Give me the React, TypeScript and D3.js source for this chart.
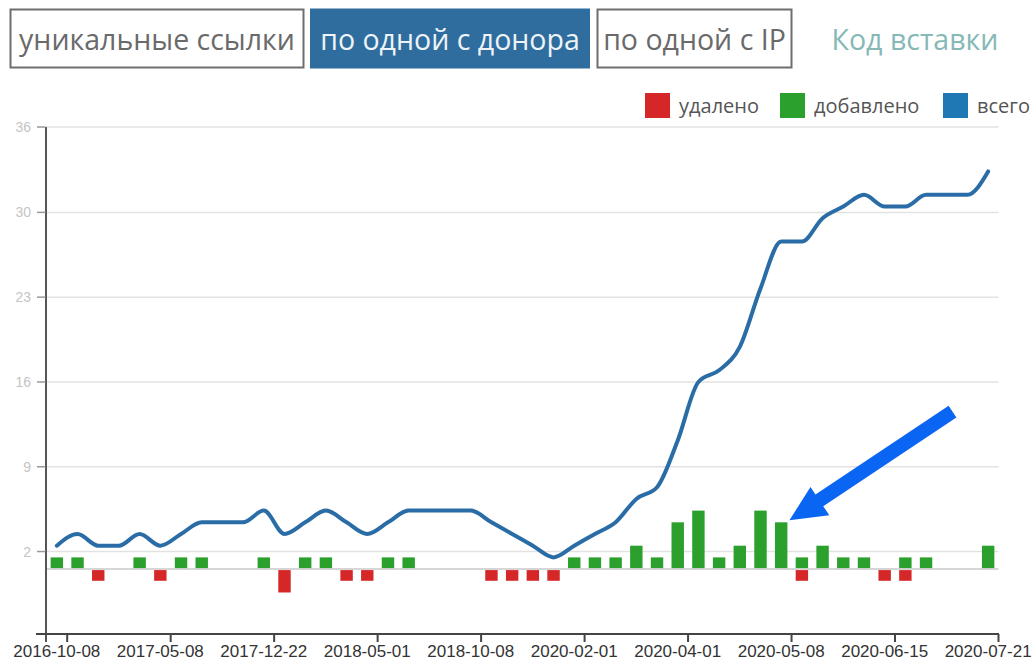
import React from 'react';
import * as d3 from 'd3';

// ---------- data ----------
const tabs = ['уникальные ссылки', 'по одной с донора', 'по одной с IP'];
const activeTab = 1;
const embedLabel = 'Код вставки';

const legendLabels = ['удалено', 'добавлено', 'всего'];
const legendColors = ['#d62728', '#2ca02c', '#1f77b4'];

const tickLabels = [
  '2016-10-08', '2017-05-08', '2017-12-22', '2018-05-01', '2018-10-08',
  '2020-02-01', '2020-04-01', '2020-05-08', '2020-06-15', '2020-07-21',
];
const tickEvery = 5;

const added = [
  1, 1, 0, 0, 1, 0, 1, 1, 0, 0,
  1, 0, 1, 1, 0, 0, 1, 1, 0, 0,
  0, 0, 0, 0, 0, 1, 1, 1, 2, 1,
  4, 5, 1, 2, 5, 4, 1, 2, 1, 1,
  0, 1, 1, 0, 0, 2,
];
const removed = [
  0, 0, 1, 0, 0, 1, 0, 0, 0, 0,
  0, 2, 0, 0, 1, 1, 0, 0, 0, 0,
  0, 1, 1, 1, 1, 0, 0, 0, 0, 0,
  0, 0, 0, 0, 0, 0, 1, 0, 0, 0,
  1, 1, 0, 0, 0, 0,
];
const total = [
  2, 3, 2, 2, 3, 2, 3, 4, 4, 4,
  5, 3, 4, 5, 4, 3, 4, 5, 5, 5,
  5, 4, 3, 2, 1, 2, 3, 4, 6, 7,
  11, 16, 17, 19, 24, 28, 28, 30, 31, 32,
  31, 31, 32, 32, 32, 34,
];

const yDomain = [-5.55, 37.8];
const yTickValues = [1.5, 8.75, 16.0, 23.25, 30.5, 37.8];
const yTickLabels = ['2', '9', '16', '23', '30', '36'];

const arrowTarget = 35;

// ---------- layout ----------
const W = 1036;
const H = 665;
const plot = { left: 46.5, right: 998.5, top: 127, bottom: 634 };

export default function App() {
  const cats = d3.range(total.length);
  const x = d3
    .scaleBand<number>()
    .domain(cats)
    .range([plot.left, plot.right])
    .paddingInner(0.4)
    .paddingOuter(0.2);
  const bw = x.bandwidth();
  const step = x.step();
  const xc = (i: number) => (x(i) as number) + bw / 2;

  const y = d3.scaleLinear().domain(yDomain).range([plot.bottom, plot.top]);

  const line = d3
    .line<number>()
    .x((_, i) => xc(i))
    .y((v) => y(v))
    .curve(d3.curveMonotoneX);

  const tickCats = tickLabels.map((_, k) => k * tickEvery);

  // tabs geometry (UI)
  const tabBoxes = [
    { x: 10.5, w: 293 },
    { x: 311, w: 278 },
    { x: 597.5, w: 194 },
  ];

  // annotation arrow
  const tipX = (x(arrowTarget) as number) + bw + 2;
  const tipY = y(added[arrowTarget]) - 2;
  const ang = Math.atan2(-110, 165);
  const ux = Math.cos(ang), uy = Math.sin(ang);
  const nx = -uy, ny = ux;
  const P = (a: number, b: number) =>
    `${tipX + ux * a + nx * b},${tipY + uy * a + ny * b}`;
  const arrowPts = [
    P(0, 0),
    P(36, -16),
    P(36, -7),
    P(196, -7),
    P(196, 7),
    P(36, 7),
    P(36, 18),
  ].join(' ');

  return (
    <svg
      width={W}
      height={H}
      style={{ position: 'absolute', left: 0, top: 0, background: '#fff' }}
      fontFamily="'Open Sans', sans-serif"
    >
      {/* tabs */}
      {tabs.map((t, i) => {
        const b = tabBoxes[i];
        const active = i === activeTab;
        return (
          <g key={t}>
            <rect
              x={b.x}
              y={9.5}
              width={b.w}
              height={58}
              fill={active ? '#2f6d9e' : '#fff'}
              stroke={active ? '#2f6d9e' : '#6e6e6e'}
              strokeWidth={2}
            />
            <text
              x={b.x + b.w / 2}
              y={49.5}
              textAnchor="middle"
              fontSize={28.5}
              fill={active ? '#eef3f7' : '#6a6a6a'}
            >
              {t}
            </text>
          </g>
        );
      })}
      <text x={915} y={49.5} textAnchor="middle" fontSize={28.5} fill="#86b8b6">
        {embedLabel}
      </text>

      {/* legend */}
      {legendLabels.map((l, i) => {
        const lx = [645, 780, 943][i];
        return (
          <g key={l}>
            <rect x={lx} y={93} width={25} height={25} fill={legendColors[i]} />
            <text x={lx + 34} y={113} fontSize={20} fill="#555">
              {l}
            </text>
          </g>
        );
      })}

      {/* grid */}
      {yTickValues.map((v) => (
        <line
          key={v}
          x1={plot.left}
          x2={plot.right}
          y1={y(v)}
          y2={y(v)}
          stroke="#e2e2e2"
          strokeWidth={1.5}
        />
      ))}
      <line
        x1={plot.left}
        x2={plot.right}
        y1={y(0)}
        y2={y(0)}
        stroke="#c8c8c8"
        strokeWidth={1.5}
      />

      {/* bars */}
      {added.map((v, i) =>
        v > 0 ? (
          <rect
            key={'a' + i}
            x={x(i)}
            y={y(v)}
            width={bw}
            height={y(0) - y(v) - 1}
            fill="#2ca02c"
          />
        ) : null
      )}
      {removed.map((v, i) =>
        v > 0 ? (
          <rect
            key={'r' + i}
            x={x(i)}
            y={y(0) + 1}
            width={bw}
            height={y(-v) - y(0) - 1}
            fill="#d62728"
          />
        ) : null
      )}

      {/* total line */}
      <path
        d={line(total) || ''}
        fill="none"
        stroke="#2a6da6"
        strokeWidth={4}
        strokeLinejoin="round"
        strokeLinecap="round"
      />

      {/* y axis */}
      <line x1={plot.left - 0.5} x2={plot.left - 0.5} y1={plot.top} y2={plot.bottom + 8} stroke="#555" strokeWidth={2} />
      {yTickValues.map((v, i) => (
        <g key={'yt' + v}>
          <line x1={37} x2={plot.left - 1} y1={y(v)} y2={y(v)} stroke="#999" strokeWidth={1.5} />
          <text
            x={31}
            y={y(v) + 5}
            textAnchor="end"
            fontSize={14}
            fontFamily="'Liberation Sans', Arial, sans-serif"
            fill="#c4c4c4"
          >
            {yTickLabels[i]}
          </text>
        </g>
      ))}

      {/* x axis */}
      <line x1={36} x2={plot.right + 0.5} y1={plot.bottom} y2={plot.bottom} stroke="#444" strokeWidth={2} />
      {tickCats.map((c, k) => (
        <g key={'xt' + k}>
          <line
            x1={xc(c) + step / 2}
            x2={xc(c) + step / 2}
            y1={plot.bottom}
            y2={plot.bottom + 8}
            stroke="#444"
            strokeWidth={2}
          />
          <text
            x={xc(c)}
            y={657}
            textAnchor="middle"
            fontSize={17}
            fontFamily="'Liberation Sans', Arial, sans-serif"
            fill="#333"
          >
            {tickLabels[k]}
          </text>
        </g>
      ))}

      {/* annotation arrow */}
      <polygon points={arrowPts} fill="#0a66f2" />
    </svg>
  );
}
